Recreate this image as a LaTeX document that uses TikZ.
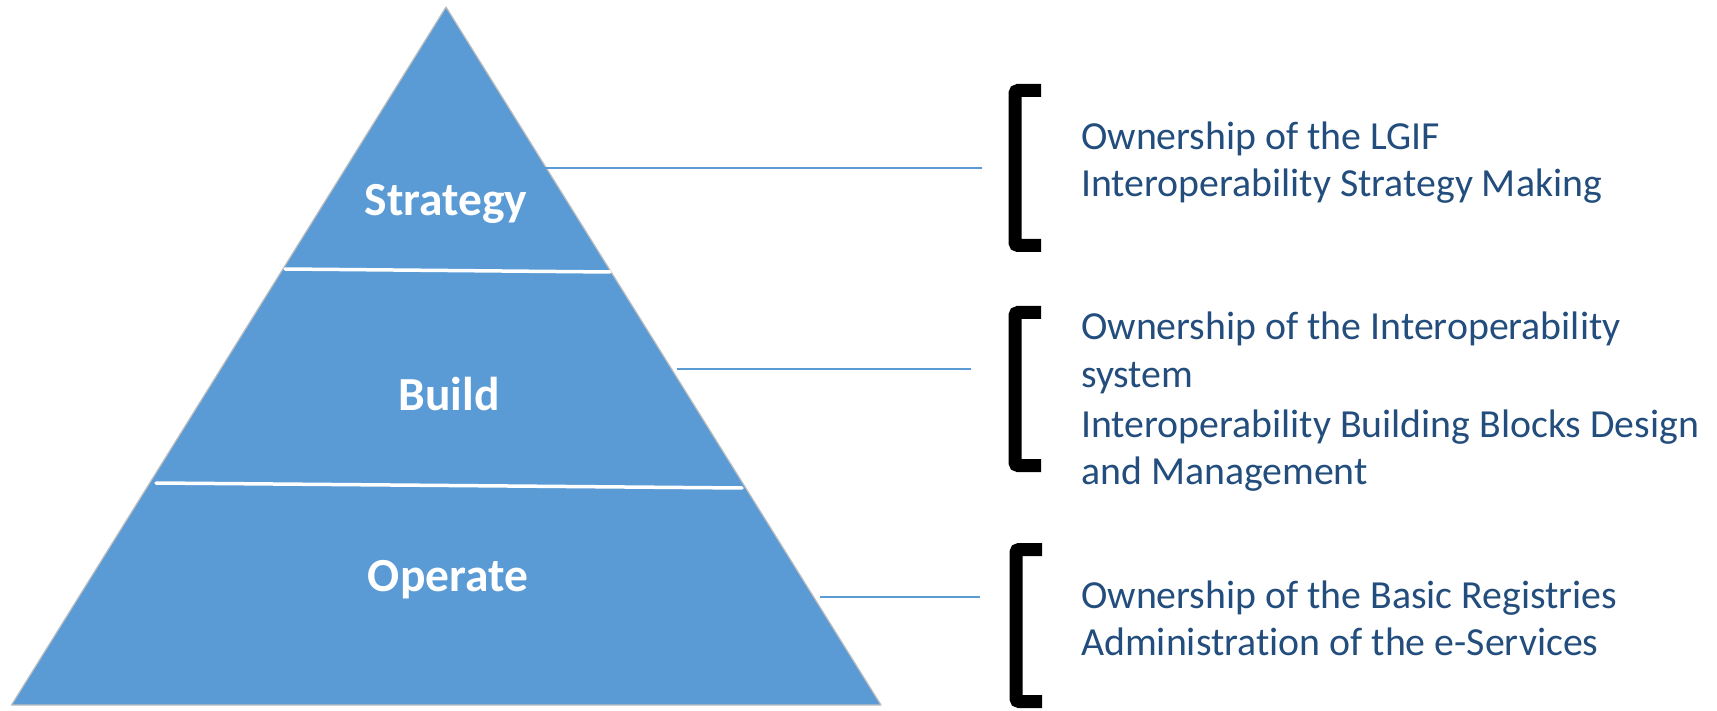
\documentclass[tikz,border=0pt]{standalone}
\usepackage{fontspec}
\setmainfont[Ligatures=NoCommon]{Carlito}
\definecolor{pyrblue}{RGB}{91,155,213}
\definecolor{pyredge}{RGB}{190,190,190}
\definecolor{txtblue}{RGB}{34,77,124}
\tikzset{
  layerlabel/.style={text=white, font=\fontsize{47.5}{50}\selectfont\bfseries, inner sep=0pt},
  divider/.style={draw=white, line width=3.5pt, line cap=round},
  leader/.style={draw=pyrblue, line width=2.6pt},
  bracketline/.style={draw=black, line width=13pt, rounded corners=3pt, line cap=butt},
  desc/.style={text=txtblue, font=\fontsize{39.8}{47}\selectfont, anchor=base west, inner sep=0pt},
}
\begin{document}
\begin{tikzpicture}[x=1pt,y=-1pt]
\useasboundingbox (0,0) rectangle (1717,711);
% pyramid
\coordinate (apex) at (446,7);
\coordinate (bl) at (11.5,705);
\coordinate (br) at (881,705);
\path[fill=pyrblue, draw=pyredge, line width=1.2pt, line join=round] (apex) -- (br) -- (bl) -- cycle;
% dividers
\coordinate (d1l) at (285,269);
\coordinate (d1r) at (610,272);
\coordinate (d2l) at (156,483);
\coordinate (d2r) at (742,488);
\draw[divider] (d1l) -- (d1r);
\draw[divider] (d2l) -- (d2r);
% labels
\node[layerlabel] (strategy) at (446,204) {Strategy};
\node[layerlabel] (build) at (449,394) {Build};
\node[layerlabel] (operate) at (448,580) {Operate};
% leader lines
\coordinate (l1a) at (545,168);
\coordinate (l1b) at (982,168);
\coordinate (l2a) at (677,369);
\coordinate (l2b) at (971,369);
\coordinate (l3a) at (820,597);
\coordinate (l3b) at (980,597);
\draw[leader] (l1a) -- (l1b);
\draw[leader] (l2a) -- (l2b);
\draw[leader] (l3a) -- (l3b);
% brackets
\draw[bracketline] (1041,90.5) -- (1015,90.5) -- (1015,245.5) -- (1041,245.5);
\draw[bracketline] (1041,312.5) -- (1015,312.5) -- (1015,465.5) -- (1041,465.5);
\draw[bracketline] (1042,549.5) -- (1016,549.5) -- (1016,701.5) -- (1042,701.5);
% descriptions
\node[desc] (t1a) at (1081,150) {Ownership of the LGIF};
\node[desc] (t1b) at (1081,197) {Interoperability Strategy Making};
\node[desc] (t2a) at (1081,340) {Ownership of the Interoperability};
\node[desc] (t2b) at (1081,388) {system};
\node[desc] (t2c) at (1081,437) {Interoperability Building Blocks Design};
\node[desc] (t2d) at (1081,484) {and Management};
\node[desc] (t3a) at (1081,608) {Ownership of the Basic Registries};
\node[desc] (t3b) at (1081,655) {Administration of the e-Services};
\end{tikzpicture}
\end{document}
